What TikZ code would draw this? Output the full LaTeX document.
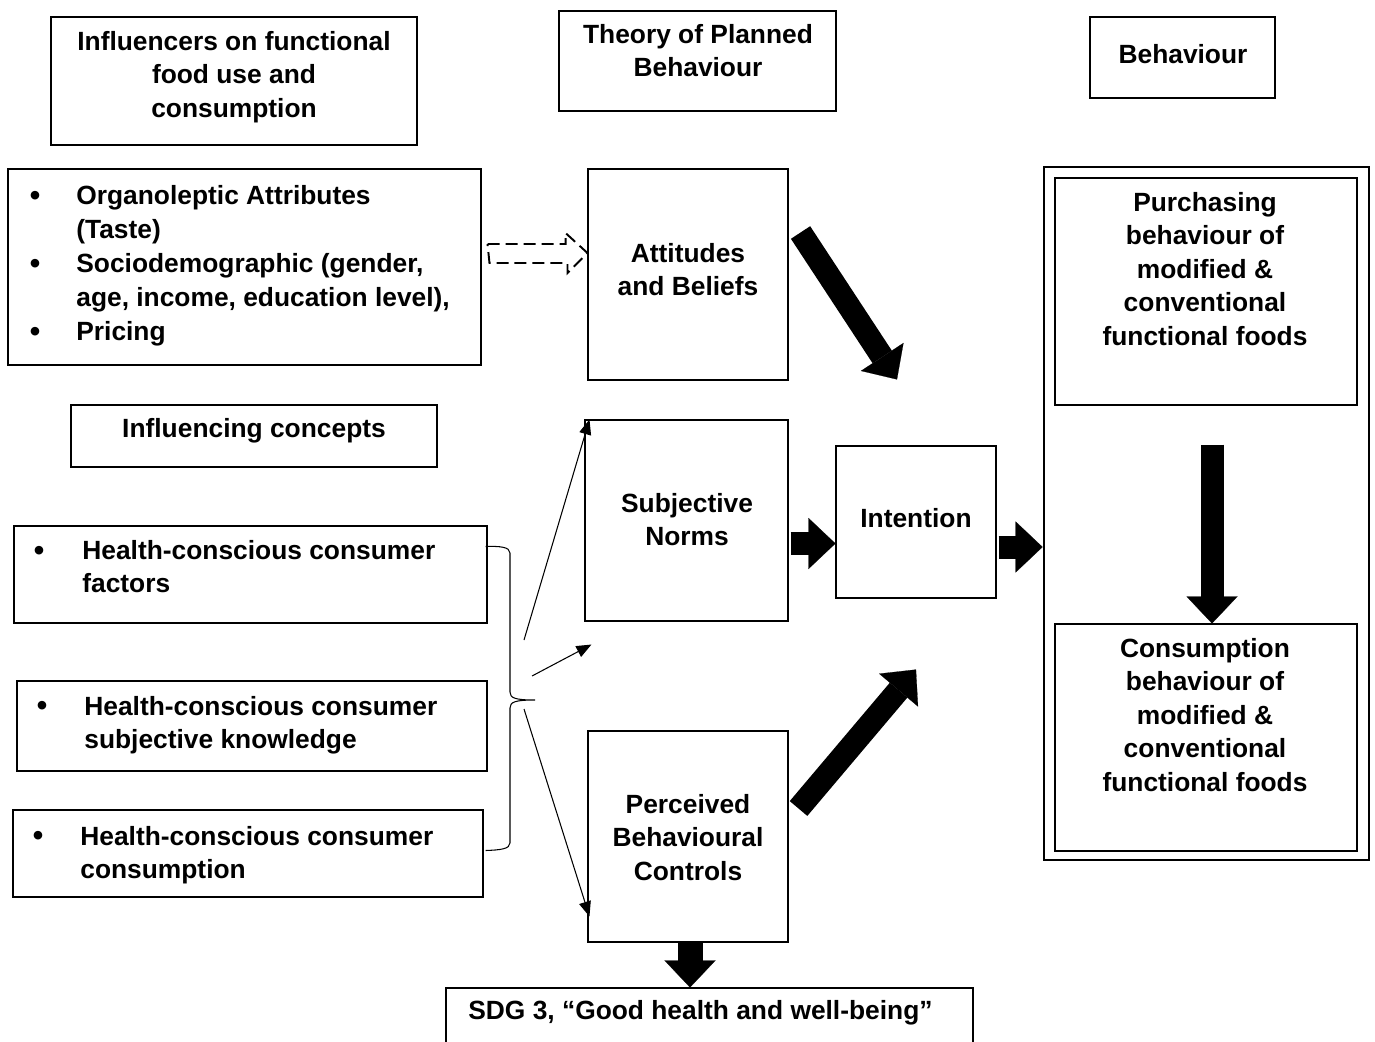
\documentclass[tikz,border=0pt]{standalone}
\usepackage{fontspec}
\setmainfont{Liberation Sans}
\usetikzlibrary{arrows.meta,fit,calc}
\begin{document}
\begin{tikzpicture}[x=0.02cm,y=-0.02cm,
  box/.style={draw, line width=0.6pt, inner sep=0pt},
  thickbox/.style={draw, line width=1.6pt, inner sep=0pt},
  lbl/.style={font=\fontsize{15}{19}\selectfont\bfseries, inner sep=0pt, align=center, anchor=base},
  lbll/.style={lbl, align=left, anchor=base west},
  dot/.style={font=\fontsize{17}{19}\selectfont\bfseries, inner sep=0pt, anchor=base},
  bigarrow/.style={line width=0.46cm, -{Triangle[length=0.54cm,width=1.02cm,line width=0.1pt]}},
  thinarrow/.style={line width=0.6pt, -{Triangle[length=0.3cm,width=0.24cm]}},
  blockdash/.style={line width=1.1pt, dash pattern=on 0.24cm off 0.12cm},
  bracket/.style={line width=0.6pt}]
\useasboundingbox (0,0) rectangle (1375,1041);

% header boxes (multi-line labels are placed by the baseline of their last line)
\node[box, fit={(51,17)(417,145)}] (infl) {};
\node[box, fit={(559,11)(836,111)}] (tpb) {};
\node[box, fit={(1090,17)(1275,98)}] (beh) {};
\node[lbl] (tInfl) at (234,117) {Influencers on functional\\food use and\\consumption};
\node[lbl] (tTpb) at (698,76.5) {Theory of Planned\\Behaviour};
\node[lbl] (tBeh) at (1183,63) {Behaviour};

% influencers list
\node[box, fit={(8,169)(481,365)}] (list) {};
\node[dot] (b1) at (35,205) {\textbullet};
\node[dot] (b2) at (35,273) {\textbullet};
\node[dot] (b3) at (35,341) {\textbullet};
\node[lbll] (tList1) at (76,238) {Organoleptic Attributes\\(Taste)};
\node[lbll] (tList2) at (76,306) {Sociodemographic (gender,\\age, income, education level),};
\node[lbll] (tList3) at (76,340) {Pricing};

% theory of planned behaviour constructs
\node[box, fit={(588,169)(788,380)}] (att) {};
\node[box, fit={(585,420)(788,621)}] (sn) {};
\node[box, fit={(588,731)(788,942)}] (pbc) {};
\node[box, fit={(836,446)(996,598)}] (int) {};
\node[lbl] (tAtt) at (688,295.5) {Attitudes\\and Beliefs};
\node[lbl] (tSn) at (687,545.5) {Subjective\\Norms};
\node[lbl] (tPbc) at (688,880) {Perceived\\Behavioural\\Controls};
\node[lbl] (tInt) at (916,527) {Intention};

% influencing concepts
\node[box, fit={(71,405)(437,467)}] (ic) {};
\node[lbl] (tIc) at (254,437) {Influencing concepts};
\node[box, fit={(14,526)(487,623)}] (hc1) {};
\node[box, fit={(17,681)(487,771)}] (hc2) {};
\node[box, fit={(13,810)(483,897)}] (hc3) {};
\node[dot] (b4) at (39,560) {\textbullet};
\node[dot] (b5) at (42,715) {\textbullet};
\node[dot] (b6) at (38,845) {\textbullet};
\node[lbll] (tHc1) at (82,592.5) {Health-conscious consumer\\factors};
\node[lbll] (tHc2) at (84,748.5) {Health-conscious consumer\\subjective knowledge};
\node[lbll] (tHc3) at (80,878.5) {Health-conscious consumer\\consumption};

% goal box
\node[box, fit={(446,988)(973,1075)}] (sdg) {};
\node[lbll] (tSdg) at (468,1019) {SDG 3, “Good health and well-being”};

% behaviour column
\node[thickbox, fit={(1044,167)(1369,860)}] (outer) {};
\node[box, fit={(1055,178)(1357,405)}] (pur) {};
\node[box, fit={(1055,624)(1357,851)}] (con) {};
\node[lbl] (tPur) at (1205,345) {Purchasing\\behaviour of\\modified \&\\conventional\\functional foods};
\node[lbl] (tCon) at (1205,791) {Consumption\\behaviour of\\modified \&\\conventional\\functional foods};

% dashed block arrow: influencers -> attitudes
\coordinate (dA) at ($(list.east)+(6,-23)$);
\draw[blockdash] (dA) -- ++(78,0) -- ++(0,-11) -- (att.west |- 0,253) -- ++(-20,20) -- ++(0,-10) -- ++(-78,0) -- cycle;

% bold arrows
\coordinate (a1s) at ($(att.east)+(12,-42)$);
\coordinate (a1e) at ($(int.north)+(-19,-66)$);
\draw[bigarrow] (a1s) -- (a1e);
\coordinate (a2s) at ($(sn.east)+(2,23)$);
\draw[bigarrow] (a2s) -- (int.west |- a2s);
\coordinate (a3s) at ($(int.east)+(2,25)$);
\draw[bigarrow] (a3s) -- (outer.west |- a3s);
\coordinate (a4s) at ($(pbc.east)+(10,-28)$);
\coordinate (a4e) at ($(int.south)+(0,71)$);
\draw[bigarrow] (a4s) -- (a4e);
\coordinate (a5s) at ($(pur.south)+(6,39)$);
\draw[bigarrow] (a5s) -- (a5s |- con.north);
\coordinate (a6s) at ($(pbc.south)+(2,0)$);
\draw[bigarrow, line width=0.5cm] (a6s) -- (a6s |- sdg.north);

% brace grouping the three concept boxes
\draw[bracket] ($(hc1.east)+(-2,-28)$) .. controls (500,546) and (510,547) .. (510,553)
  -- (510,692) .. controls (510,698) and (515,700) .. (535,700) coordinate (brtip)
  .. controls (515,700) and (510,702) .. (510,708)
  -- (510,843) .. controls (510,849) and (500,850) .. ($(hc3.east)+(2,-3)$);

% thin arrows from the brace
\coordinate (t1) at ($(brtip)+(-11,-60)$);
\coordinate (t2) at ($(brtip)+(-3,-24)$);
\coordinate (t3) at ($(brtip)+(-11,9)$);
\draw[thinarrow] (t1) -- ($(sn.north west)+(5,0)$);
\draw[thinarrow] (t2) -- ($(sn.south west)+(7,23)$);
\draw[thinarrow] (t3) -- ($(pbc.west)+(2,80)$);
\end{tikzpicture}
\end{document}
